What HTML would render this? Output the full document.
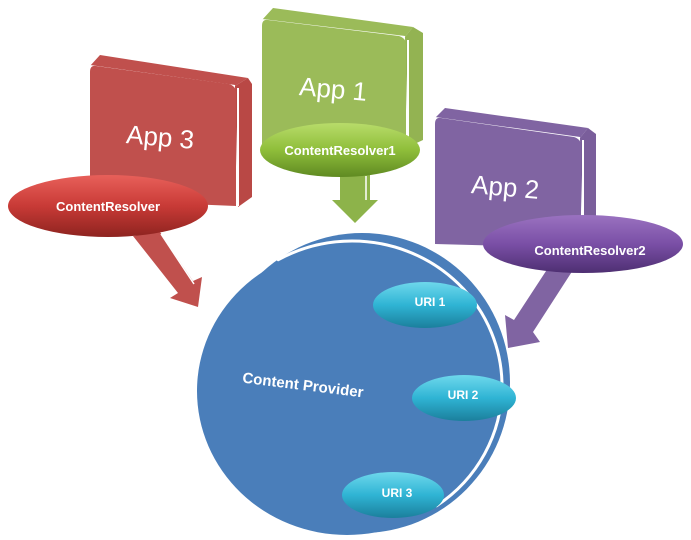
<!DOCTYPE html>
<html><head><meta charset="utf-8"><style>
html,body{margin:0;padding:0;background:#fff;}
svg{display:block;}
text{font-family:"Liberation Sans",sans-serif;}
</style></head><body>
<svg width="691" height="540" viewBox="0 0 691 540" xmlns="http://www.w3.org/2000/svg">
<defs>
<linearGradient id="gr" x1="0" y1="0" x2="0" y2="1"><stop offset="0" stop-color="#e8605a"/><stop offset="0.5" stop-color="#c83a36"/><stop offset="1" stop-color="#8e2420"/></linearGradient>
<linearGradient id="gg" x1="0" y1="0" x2="0" y2="1"><stop offset="0" stop-color="#b8dc6a"/><stop offset="0.5" stop-color="#8fbe3a"/><stop offset="1" stop-color="#5f8a22"/></linearGradient>
<linearGradient id="gp" x1="0" y1="0" x2="0" y2="1"><stop offset="0" stop-color="#9a72c0"/><stop offset="0.5" stop-color="#7a4fa6"/><stop offset="1" stop-color="#4e2f72"/></linearGradient>
<linearGradient id="gc" x1="0" y1="0" x2="0" y2="1"><stop offset="0" stop-color="#6ed8ec"/><stop offset="0.5" stop-color="#2fb4d4"/><stop offset="1" stop-color="#1b7f9c"/></linearGradient>
</defs>

<!-- Content provider -->
<ellipse cx="362" cy="383" rx="148" ry="150" fill="#4a7eba"/>
<ellipse cx="347" cy="391" rx="150" ry="144" fill="#4a7eba"/>
<ellipse cx="352" cy="386" rx="150" ry="145" fill="none" stroke="#fff" stroke-width="3" stroke-dasharray="142 476 309 0" stroke-linecap="round"/>
<text x="303" y="390" font-size="15" font-weight="bold" fill="#fff" text-anchor="middle" transform="rotate(7 303 385)">Content Provider</text>

<!-- App3 red block -->
<polygon points="100,55 248,78 235,86 90,66" fill="#c0504d"/>
<polyline points="90,66 235,86" stroke="#fff" stroke-width="2" fill="none"/>
<polygon points="235,86 248,78 252,84 252,197 238,207" fill="#b94845"/>
<line x1="238" y1="88" x2="238" y2="206" stroke="#fff" stroke-width="2"/>
<path d="M96,66 L229,84 Q236,86 236,93 L236,206 L90,200 L90,72 Q90,65 96,66Z" fill="#c0504d"/>
<text x="160" y="146" font-size="26" fill="#fff" text-anchor="middle" transform="rotate(5 160 140)">App 3</text>

<!-- App1 green block -->
<polygon points="273,8 413,27 405,37 262,20" fill="#9bbb59"/>
<line x1="262" y1="20" x2="405" y2="37" stroke="#fff" stroke-width="2"/>
<polygon points="405,37 413,27 423,33 423,140 408,147" fill="#93b352"/>
<line x1="408" y1="40" x2="408" y2="146" stroke="#fff" stroke-width="2"/>
<path d="M268,20 L399,36 Q406,38 406,45 L406,147 L262,145 L262,26 Q262,19 268,20Z" fill="#9bbb59"/>
<text x="333" y="98" font-size="26" fill="#fff" text-anchor="middle" transform="rotate(5 333 92)">App 1</text>

<!-- App2 purple block -->
<polygon points="445,108 588,128 580,138 435,118" fill="#8064a2"/>
<line x1="435" y1="118" x2="580" y2="138" stroke="#fff" stroke-width="2"/>
<polygon points="580,138 588,128 596,134 596,240 583,248" fill="#7a5e9b"/>
<line x1="583" y1="140" x2="583" y2="246" stroke="#fff" stroke-width="2"/>
<path d="M441,118 L574,137 Q581,139 581,146 L581,248 L435,244 L435,124 Q435,117 441,118Z" fill="#8064a2"/>
<text x="505" y="196" font-size="26" fill="#fff" text-anchor="middle" transform="rotate(5 505 190)">App 2</text>

<!-- Arrows -->
<polygon points="133,236 160,232 193,281 202,277 198,307 170,298 178,293" fill="#c0504d"/>
<line x1="161" y1="234" x2="194" y2="284" stroke="#fff" stroke-width="1.5"/>
<polygon points="340,175 370,175 370,200 378,200 355,223 332,200 340,200" fill="#8db34a"/>
<line x1="366" y1="176" x2="366" y2="200" stroke="#fff" stroke-width="1.5"/>
<polygon points="548,268 573,270 533,332 540,342 508,348 505,315 514,320" fill="#8064a2"/>

<!-- Ellipses -->
<ellipse cx="108" cy="206" rx="100" ry="31" fill="url(#gr)"/>
<text x="108" y="211" font-size="13" font-weight="bold" fill="#fff" text-anchor="middle">ContentResolver</text>
<ellipse cx="340" cy="150" rx="80" ry="27" fill="url(#gg)"/>
<text x="340" y="155" font-size="13" font-weight="bold" fill="#fff" text-anchor="middle">ContentResolver1</text>
<ellipse cx="583" cy="244" rx="100" ry="29" fill="url(#gp)"/>
<text x="590" y="255" font-size="13" font-weight="bold" fill="#fff" text-anchor="middle">ContentResolver2</text>

<ellipse cx="425" cy="305" rx="52" ry="23" fill="url(#gc)"/>
<text x="430" y="306" font-size="12" font-weight="bold" fill="#fff" text-anchor="middle">URI 1</text>
<ellipse cx="464" cy="398" rx="52" ry="23" fill="url(#gc)"/>
<text x="463" y="399" font-size="12" font-weight="bold" fill="#fff" text-anchor="middle">URI 2</text>
<ellipse cx="393" cy="495" rx="51" ry="23" fill="url(#gc)"/>
<text x="397" y="497" font-size="12" font-weight="bold" fill="#fff" text-anchor="middle">URI 3</text>
</svg>
</body></html>
